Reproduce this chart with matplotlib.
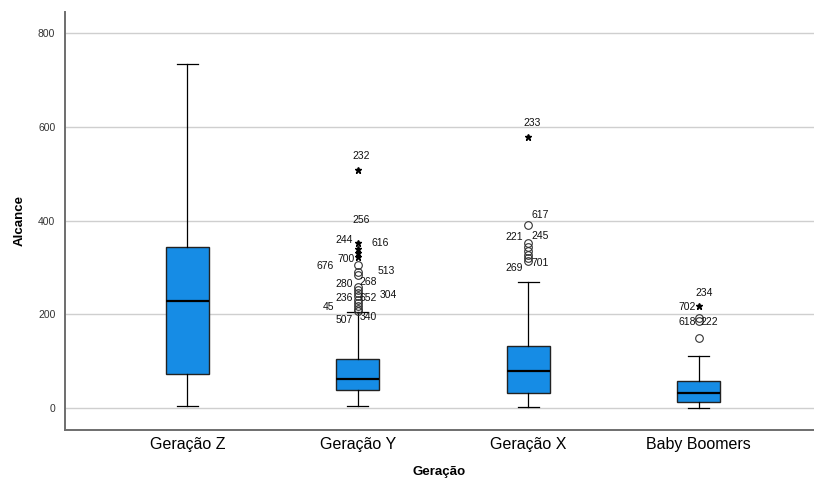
import matplotlib.pyplot as plt

plt.rcParams['font.family'] = ['Liberation Sans Narrow', 'Liberation Sans', 'DejaVu Sans']

categories = ['Geração Z', 'Geração Y', 'Geração X', 'Baby Boomers']
q1 = [72, 38, 32, 13]
median = [228, 62, 79, 32]
q3 = [343, 104, 132, 58]
whisker_low = [4, 5, 2, 0]
whisker_high = [734, 205, 269, 111]

# outliers (circles) and extremes (stars)
outliers = [
    [],
    [305, 290, 284, 258, 252, 245, 239, 230, 224, 218, 211, 207],
    [390, 352, 343, 335, 326, 320, 313],
    [192, 186, 149],
]
extremes = [
    [],
    [508, 352, 340, 330, 322],
    [578],
    [218],
]

# case labels: (category index, x offset, value, text)
case_labels = [
    (1, 0.02, 538, '232'),
    (1, 0.02, 402, '256'),
    (1, -0.08, 358, '244'),
    (1, 0.13, 352, '616'),
    (1, -0.07, 318, '700'),
    (1, -0.19, 302, '676'),
    (1, 0.17, 292, '513'),
    (1, 0.06, 268, '268'),
    (1, -0.08, 264, '280'),
    (1, 0.18, 240, '304'),
    (1, -0.08, 234, '236'),
    (1, 0.06, 234, '652'),
    (1, -0.17, 215, '45'),
    (1, -0.08, 188, '507'),
    (1, 0.06, 195, '340'),
    (2, 0.02, 608, '233'),
    (2, 0.07, 412, '617'),
    (2, -0.08, 364, '221'),
    (2, 0.07, 368, '245'),
    (2, 0.07, 310, '701'),
    (2, -0.08, 298, '269'),
    (3, 0.03, 246, '234'),
    (3, -0.07, 216, '702'),
    (3, -0.07, 184, '618'),
    (3, 0.06, 184, '222'),
]

stats = []
for i, name in enumerate(categories):
    stats.append({'label': name, 'q1': q1[i], 'med': median[i], 'q3': q3[i],
                  'whislo': whisker_low[i], 'whishi': whisker_high[i],
                  'fliers': outliers[i]})

fig = plt.figure(figsize=(8.14, 4.88), dpi=100)
ax = fig.add_axes([0.0799, 0.1189, 0.9201, 0.8565])

positions = [1, 2, 3, 4]
ax.bxp(stats, positions=positions, widths=0.25, patch_artist=True,
       boxprops=dict(facecolor='#168ce5', edgecolor='#222222', linewidth=1.0),
       medianprops=dict(color='black', linewidth=1.6),
       whiskerprops=dict(color='black', linewidth=0.9),
       capprops=dict(color='black', linewidth=0.9),
       capwidths=0.125,
       flierprops=dict(marker='o', markerfacecolor='none', markeredgecolor='#333333',
                       markersize=5.5, markeredgewidth=0.8),
       zorder=3)

for i, vals in enumerate(extremes):
    ax.plot([positions[i]] * len(vals), vals, linestyle='none', marker='*',
            color='black', markersize=4.5, zorder=4)

for idx, dx, val, txt in case_labels:
    ax.text(positions[idx] + dx, val, txt, fontsize=7.5, ha='center', va='center',
            color='#111111', zorder=5)

ax.set_xlim(0.283, 4.676)
ax.set_ylim(-47, 845)
ax.set_yticks([0, 200, 400, 600, 800])
ax.set_xticks(positions)
ax.set_xticklabels(categories, fontsize=11.5, family=['Liberation Sans', 'DejaVu Sans'])
ax.tick_params(axis='y', length=0, pad=7, labelsize=7.5, colors='#333333')
ax.tick_params(axis='x', length=0, pad=5)

ax.yaxis.grid(True, color='#cfcfcf', linewidth=1.0)
ax.set_axisbelow(True)

for side in ['top', 'right']:
    ax.spines[side].set_visible(False)
for side in ['left', 'bottom']:
    ax.spines[side].set_color('#6e6e6e')
    ax.spines[side].set_linewidth(1.4)

ax.set_ylabel('Alcance', fontsize=9.5, fontweight='bold', labelpad=9,
              family=['Liberation Sans', 'DejaVu Sans'])
ax.set_xlabel('Geração', fontsize=9.5, fontweight='bold', labelpad=10,
              family=['Liberation Sans', 'DejaVu Sans'])

fig.savefig('out.png', dpi=100)
